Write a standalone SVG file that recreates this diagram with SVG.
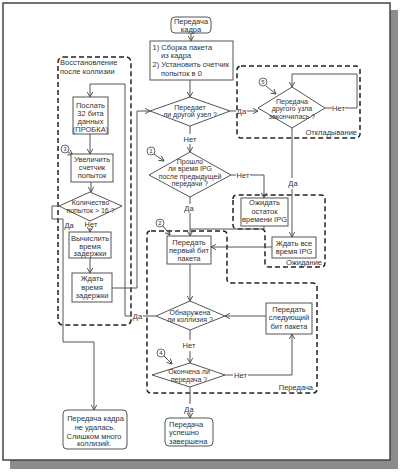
<svg xmlns="http://www.w3.org/2000/svg" width="400" height="472" viewBox="0 0 400 472">
<defs>
<marker id="a" markerWidth="7" markerHeight="7" refX="5" refY="3" orient="auto" markerUnits="userSpaceOnUse"><path d="M0,0.3 L5,3 L0,5.7" fill="none" stroke="#444" stroke-width="0.9"/></marker>
<style>
text{font-family:"Liberation Sans",Arial,sans-serif;font-size:7.5px;fill:#333;text-anchor:middle}
.l{text-anchor:start}
.r{text-anchor:end}
.b{fill:#fff;stroke:#555;stroke-width:1}
.c{fill:none;stroke:#555;stroke-width:1}
.ca{fill:none;stroke:#555;stroke-width:1;marker-end:url(#a)}
.d{fill:none;stroke:#222;stroke-width:1.5;stroke-dasharray:5,3}
.n{fill:#fff;stroke:#444;stroke-width:0.8}
.s{font-size:6px}
.dm text{font-size:7px}
</style>
</defs>
<rect x="10" y="10" width="388" height="459" fill="#8c8c8c"/>
<rect x="3" y="3" width="387" height="457" fill="#fff" stroke="#444" stroke-width="1.5"/>

<g id="regions">
<rect class="d" x="58" y="57" width="73" height="268" rx="5"/>
<text class="l" x="60" y="65">Восстановление</text>
<text class="l" x="60" y="73.5">после коллизии</text>
<rect class="d" x="237" y="66" width="123" height="72" rx="4"/>
<text class="r" x="357" y="135">Откладывание</text>
<path class="d" d="M233,199 Q233,195 237,195 L321,195 Q325,195 325,199 L325,263 Q325,267 321,267 L269,267 Q265,267 265,263 L265,233 Q265,229 261,229 L237,229 Q233,229 233,225 Z"/>
<text class="r" x="322" y="264.5">Ожидание</text>
<path class="d" d="M151,231 L223,231 Q227,231 227,235 L227,279 Q227,283 231,283 L313,283 Q317,283 317,287 L317,389 Q317,393 313,393 L151,393 Q147,393 147,389 L147,235 Q147,231 151,231 Z"/>
<text class="r" x="313" y="390">Передача</text>
</g>

<g id="connectors">
<path class="ca" d="M191,33 V41"/>
<path class="ca" d="M190,80 V97"/>
<path class="c" d="M230,111 H236"/>
<text x="241.5" y="113.5">Да</text>
<path class="ca" d="M247,111 H258"/>
<path class="c" d="M325,108 H332"/>
<text x="338.5" y="110.5">Нет</text>
<path class="ca" d="M345,108 H357 V74 H292 V87"/>
<path class="c" d="M292,128 V178"/>
<text x="293" y="186">Да</text>
<path class="ca" d="M292,189 V237"/>
<path class="c" d="M190,126 V134"/>
<text x="190" y="141.5">Нет</text>
<path class="ca" d="M190,144 V152"/>
<path class="c" d="M231,175 H236"/>
<text x="243" y="177.5">Нет</text>
<path class="ca" d="M250,175 H264 V198"/>
<path class="c" d="M190,197 V204"/>
<text x="189" y="211">Да</text>
<path class="ca" d="M190,213 V236"/>
<path class="c" d="M264,226 V229 H190"/>
<path class="ca" d="M272,247 H211"/>
<path class="ca" d="M190,264 V301"/>
<path class="c" d="M156,316 H143"/>
<text x="137.5" y="318.5">Да</text>
<path class="ca" d="M132,316 H125 V84 H90 V97"/>
<path class="ca" d="M90,134 V154"/>
<path class="ca" d="M91,182 V192"/>
<path class="c" d="M59,206 H52 V219 H63 V342 H94"/>
<path class="ca" d="M94,342 V410"/>
<text class="l" x="64.5" y="227.5">Да</text>
<text x="91" y="227">Нет</text>
<path class="ca" d="M90,228 V232"/>
<path class="ca" d="M90,258 V273"/>
<path class="ca" d="M112,288 H137 V111 H150"/>
<path class="c" d="M190,330 V340"/>
<text x="189" y="347.5">Нет</text>
<path class="ca" d="M190,351 V363"/>
<path class="c" d="M225,375 H233"/>
<text x="240.5" y="377.5">Нет</text>
<path class="ca" d="M248,375 H292 V334"/>
<path class="ca" d="M266,316 H225"/>
<path class="c" d="M190,387 V404"/>
<text x="189" y="411.5">Да</text>
<path class="ca" d="M190,413 V418"/>
<path class="ca" d="M266,86 L276,94"/>
<path class="ca" d="M154,154 L164,161"/>
<path class="ca" d="M163,226 L170,235"/>
<path class="ca" d="M68,152 L73,155"/>
<path class="ca" d="M164,356 L172,364"/>
</g>

<g id="start"><rect class="b" x="171" y="17" width="40" height="16" rx="4"/><text x="191" y="24">Передача</text><text x="191" y="31.5">кадра</text></g>
<g id="init"><rect class="b" x="150" y="41" width="83" height="39"/><text class="l" x="152.5" y="49.5">1) Сборка пакета</text><text class="l" x="161" y="58">из кадра</text><text class="l" x="152.5" y="67">2) Установить счетчик</text><text class="l" x="161" y="76">попыток в 0</text></g>
<g id="busy" class="dm"><polygon class="b" points="150,111 190,97 230,111 190,126"/><text x="190" y="109.5">Передает</text><text x="190" y="117">ли другой узел ?</text></g>
<g id="defer" class="dm"><polygon class="b" points="258,108 292,87 325,108 292,128"/><text x="292" y="103.5">Передача</text><text x="292" y="111">другого узла</text><text x="292" y="118.5">закончилась ?</text></g>
<g id="n5"><circle class="n" cx="263" cy="82" r="4"/><text class="s" x="263" y="84.2">5</text></g>
<g id="ipg" class="dm"><polygon class="b" points="149,175 190,152 231,175 190,197"/><text x="190" y="163.5">Прошло</text><text x="190" y="171">ли время IPG</text><text x="190" y="178.5">после предыдущей</text><text x="190" y="186">передачи ?</text></g>
<g id="n1"><circle class="n" cx="151" cy="151" r="4"/><text class="s" x="151" y="153.2">1</text></g>
<g id="waitrest"><rect class="b" x="241" y="198" width="47" height="28"/><text x="264.5" y="205">Ожидать</text><text x="264.5" y="213.5">остаток</text><text x="264.5" y="222">времени IPG</text></g>
<g id="waitall"><rect class="b" x="272" y="237" width="44" height="21"/><text x="294" y="245.5">Ждать все</text><text x="294" y="254">время IPG</text></g>
<g id="first"><rect class="b" x="167" y="236" width="44" height="28"/><text x="189" y="244.5">Передать</text><text x="189" y="252.5">первый бит</text><text x="189" y="261">пакета</text></g>
<g id="n2"><circle class="n" cx="160" cy="223" r="4"/><text class="s" x="160" y="225.2">2</text></g>
<g id="collision" class="dm"><polygon class="b" points="156,316 190,301 225,316 190,330"/><text x="190" y="314.5">Обнаружена</text><text x="190" y="322">ли коллизия ?</text></g>
<g id="next"><rect class="b" x="266" y="303" width="46" height="31"/><text x="289" y="311.5">Передать</text><text x="289" y="320">следующий</text><text x="289" y="328.5">бит пакета</text></g>
<g id="done" class="dm"><polygon class="b" points="152,375 190,363 225,375 190,387"/><text x="189" y="373.5">Окончена ли</text><text x="189" y="381.5">передача ?</text></g>
<g id="n4"><circle class="n" cx="161" cy="353" r="4"/><text class="s" x="161" y="355.2">4</text></g>
<g id="success"><rect class="b" x="165" y="418" width="48" height="28" rx="4"/><text class="l" x="169" y="426.5">Передача</text><text class="l" x="169" y="435">успешно</text><text class="l" x="169" y="443.5">завершена</text></g>
<g id="jam"><rect class="b" x="73" y="97" width="35" height="37"/><text x="90.5" y="107.5">Послать</text><text x="90.5" y="115.5">32 бита</text><text x="90.5" y="124">данных</text><text x="90.5" y="131.5">(ПРОБКА)</text></g>
<g id="n3"><circle class="n" cx="65" cy="149" r="4"/><text class="s" x="65" y="151.2">3</text></g>
<g id="inc"><rect class="b" x="71" y="154" width="42" height="28"/><text x="92" y="161.5">Увеличить</text><text x="92" y="169.5">счетчик</text><text x="92" y="178">попыток</text></g>
<g id="count" class="dm"><polygon class="b" points="59,206 90,192 122,206 90,221"/><text x="90.5" y="205">Количество</text><text x="90.5" y="212.5">попыток &gt; 16 ?</text></g>
<g id="calc"><rect class="b" x="69" y="232" width="42" height="26"/><text x="90" y="241">Вычислить</text><text x="90" y="248.5">время</text><text x="90" y="256">задержки</text></g>
<g id="wait"><rect class="b" x="72" y="273" width="40" height="29"/><text x="92" y="281">Ждать</text><text x="92" y="289.5">время</text><text x="92" y="298">задержки</text></g>
<g id="fail"><rect class="b" x="63" y="410" width="64" height="39" rx="4"/><text x="95.5" y="421">Передача кадра</text><text x="95" y="430">не удалась.</text><text x="94" y="438.5">Слишком много</text><text x="94" y="446">коллизий.</text></g>
</svg>
